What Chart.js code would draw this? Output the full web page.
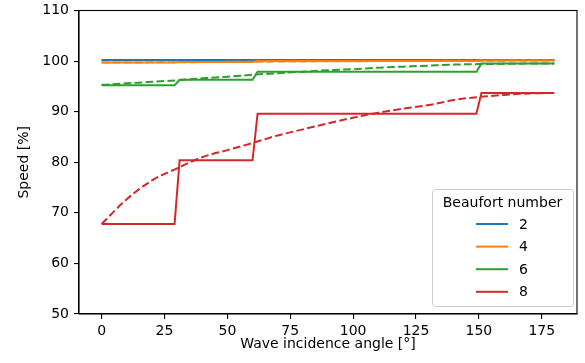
<!DOCTYPE html>
<html>
<head>
<meta charset="utf-8">
<script src="https://cdn.jsdelivr.net/npm/chart.js@4"></script>
<style>
  html, body { margin: 0; padding: 0; background: #fff; }
  #wrap { width: 585px; height: 363px; }
</style>
</head>
<body>
<div id="wrap"><canvas id="myChart" width="585" height="363"></canvas></div>
<script>
// Beaufort numbers and colours (matplotlib tab10)
const beaufort = ['2', '4', '6', '8'];
const colors = ['#1f77b4', '#ff7f0e', '#2ca02c', '#d62728'];

// step lines: angle breakpoints and the 4 levels per series
const stepAngles = [0, 29, 31, 60, 62, 149, 151, 180];
const levels2 = [100.2, 100.2, 100.2, 100.2];
const levels4 = [99.7, 99.8, 100.0, 100.1];
const levels6 = [95.2, 96.3, 97.9, 99.5];
const levels8 = [67.8, 80.4, 89.6, 93.7];

// dashed curves, read every 10 degrees
const curveAngles = [0, 10, 20, 30, 40, 50, 60, 70, 80, 90, 100, 110, 120, 130, 140, 150, 160, 170, 180];
const curve2 = [100.2, 100.2, 100.2, 100.2, 100.2, 100.2, 100.2, 100.2, 100.2, 100.2, 100.2, 100.2, 100.2, 100.2, 100.2, 100.2, 100.2, 100.2, 100.2];
const curve4 = [99.7, 99.72, 99.75, 99.78, 99.8, 99.85, 99.88, 99.9, 99.93, 99.95, 99.97, 100.0, 100.02, 100.04, 100.06, 100.08, 100.09, 100.1, 100.1];
const curve6 = [95.3, 95.6, 95.9, 96.2, 96.6, 96.9, 97.3, 97.6, 97.9, 98.2, 98.4, 98.7, 98.9, 99.1, 99.3, 99.4, 99.45, 99.5, 99.5];
const curve8 = [67.8, 72.7, 76.4, 78.8, 81.0, 82.4, 83.8, 85.3, 86.5, 87.7, 88.8, 89.8, 90.6, 91.3, 92.3, 92.9, 93.3, 93.6, 93.7];

const xTicks = [0, 25, 50, 75, 100, 125, 150, 175];
const yTicks = [50, 60, 70, 80, 90, 100, 110];

const FONT = 'DejaVu Sans';

function stepPoints(lv) {
  // each level is held flat between two breakpoints
  return stepAngles.map((a, i) => ({ x: a, y: lv[Math.floor(i / 2)] }));
}
function curvePoints(c) {
  return curveAngles.map((a, i) => ({ x: a, y: c[i] }));
}

const allLevels = [levels2, levels4, levels6, levels8];
const allCurves = [curve2, curve4, curve6, curve8];

// per Beaufort number: step line, then its dashed curve (later ones drawn on top)
const datasets = [];
allLevels.forEach((lv, i) => {
  datasets.push({
    label: beaufort[i],
    data: stepPoints(lv),
    borderColor: colors[i],
    borderWidth: 2,
    pointRadius: 0,
    tension: 0,
    fill: false,
    order: 10 - 2 * i
  });
  datasets.push({
    label: beaufort[i] + ' fit',
    data: curvePoints(allCurves[i]),
    borderColor: colors[i],
    borderWidth: 2,
    borderDash: [7.7, 3.3],
    pointRadius: 0,
    tension: 0.4,
    cubicInterpolationMode: 'monotone',
    fill: false,
    order: 9 - 2 * i
  });
});

// box around the plot + matplotlib-like legend in the lower right
const framePlugin = {
  id: 'frame',
  afterDatasetsDraw(chart) {
    const { ctx, chartArea: a } = chart;
    ctx.save();
    ctx.strokeStyle = '#000';
    ctx.lineWidth = 1.1;
    ctx.strokeRect(a.left, a.top, a.right - a.left, a.bottom - a.top);

    // legend
    const w = 141, h = 117;
    const x0 = a.right - 4 - w, y0 = a.bottom - 8 - h;
    ctx.fillStyle = 'rgba(255,255,255,0.8)';
    ctx.strokeStyle = '#cccccc';
    ctx.lineWidth = 1;
    ctx.beginPath();
    ctx.roundRect(x0 + 0.5, y0 + 0.5, w, h, 3);
    ctx.fill();
    ctx.stroke();

    ctx.fillStyle = '#000';
    ctx.font = '14px "' + FONT + '"';
    ctx.textBaseline = 'middle';
    ctx.textAlign = 'center';
    ctx.fillText('Beaufort number', x0 + w / 2, y0 + 14);
    ctx.textAlign = 'left';
    beaufort.forEach((b, i) => {
      const y = y0 + 35 + i * 22.6;
      ctx.strokeStyle = colors[i];
      ctx.lineWidth = 2;
      ctx.beginPath();
      ctx.moveTo(x0 + 44, y);
      ctx.lineTo(x0 + 76, y);
      ctx.stroke();
      ctx.fillStyle = '#000';
      ctx.fillText(b, x0 + 87, y + 1);
    });
    ctx.restore();
  }
};

const ctx = document.getElementById('myChart').getContext('2d');
const myChart = new Chart(ctx, {
  type: 'line',
  data: { datasets: datasets },
  plugins: [framePlugin],
  options: {
    responsive: false,
    animation: false,
    layout: { padding: { top: 10.5, right: 8, bottom: 0, left: 0 } },
    plugins: {
      legend: { display: false },
      tooltip: { enabled: false }
    },
    scales: {
      x: {
        type: 'linear',
        min: -9,
        max: 189,
        afterBuildTicks: s => { s.ticks = xTicks.map(v => ({ value: v })); },
        afterFit: s => { s.height = 49; s.paddingLeft = 0; s.paddingRight = 0; },
        grid: { drawOnChartArea: false, drawTicks: true, tickLength: 5, color: '#000', lineWidth: 1.1 },
        border: { display: true, color: '#000', width: 1.1 },
        ticks: { color: '#000', font: { family: FONT, size: 14 }, padding: 4, maxRotation: 0 },
        title: {
          display: true,
          text: 'Wave incidence angle [°]',
          color: '#000',
          font: { family: FONT, size: 14 },
          padding: { top: 0, bottom: 10 }
        }
      },
      y: {
        min: 50,
        max: 110,
        afterBuildTicks: s => { s.ticks = yTicks.map(v => ({ value: v })); },
        afterFit: s => { s.width = 79; s.paddingTop = 0; s.paddingBottom = 0; },
        grid: { drawOnChartArea: false, drawTicks: true, tickLength: 5, color: '#000', lineWidth: 1.1 },
        border: { display: true, color: '#000', width: 1.1 },
        ticks: { color: '#000', font: { family: FONT, size: 14 }, padding: 5 },
        title: {
          display: true,
          text: 'Speed [%]',
          color: '#000',
          font: { family: FONT, size: 14 },
          padding: { top: 16, bottom: 0 }
        }
      }
    }
  }
});
</script>
</body>
</html>
